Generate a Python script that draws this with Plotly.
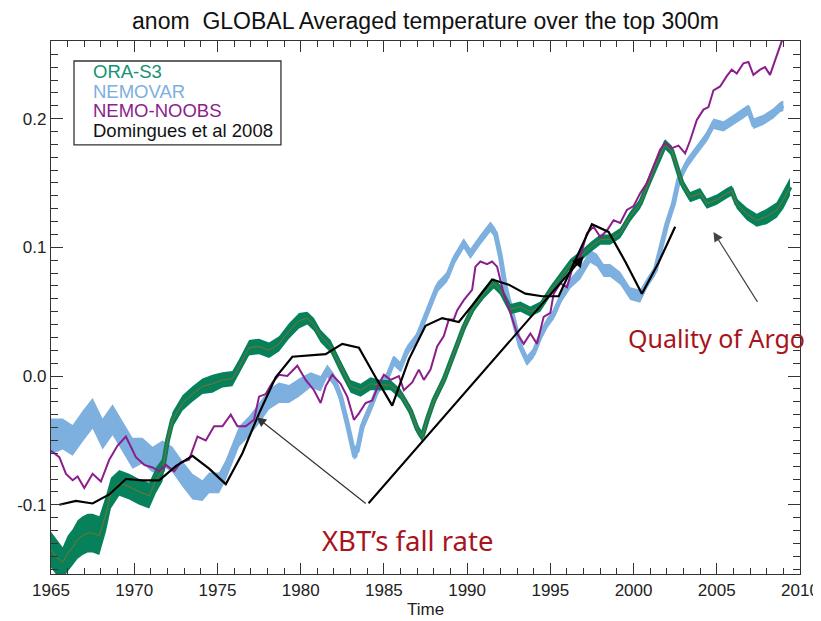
import plotly.graph_objects as go

# ---------------- data ----------------
ora_years = [1965.0, 1965.3, 1965.7, 1966.0, 1966.3, 1966.6, 1966.9, 1967.2, 1967.5, 1967.9,
             1968.3, 1968.6, 1969.1, 1969.7, 1970.3, 1970.9, 1971.3, 1971.7, 1972.0, 1972.3,
             1972.9, 1973.5, 1974.1, 1974.7, 1975.3, 1975.9, 1976.3, 1976.9, 1977.5, 1978.1,
             1978.7, 1979.3, 1979.9, 1980.4, 1980.8, 1981.2, 1981.8, 1982.4, 1983.0, 1983.6,
             1984.2, 1984.8, 1985.4, 1986.0, 1986.6, 1987.0, 1987.3, 1987.6, 1988.0, 1988.6,
             1989.2, 1989.8, 1990.4, 1991.0, 1991.6, 1992.0, 1992.6, 1993.2, 1993.8, 1994.4,
             1995.0, 1995.6, 1996.2, 1996.8, 1997.4, 1998.0, 1998.6, 1999.2, 1999.8, 2000.4,
             2000.8, 2001.3, 2001.9, 2002.3, 2002.6, 2002.9, 2003.4, 2004.0, 2004.4, 2005.0,
             2005.6, 2005.9, 2006.2, 2006.8, 2007.4, 2008.0, 2008.6, 2009.0, 2009.4]
ora_vals = [-0.135, -0.140, -0.145, -0.138, -0.133, -0.127, -0.124, -0.122, -0.122, -0.124,
            -0.107, -0.091, -0.083, -0.086, -0.090, -0.093, -0.081, -0.073, -0.050, -0.034,
            -0.021, -0.014, -0.008, -0.006, -0.003, -0.002, 0.007, 0.022, 0.023, 0.020,
            0.025, 0.035, 0.043, 0.045, 0.040, 0.031, 0.023, 0.007, -0.008, -0.011,
            -0.006, -0.007, -0.007, -0.014, -0.027, -0.041, -0.047, -0.034, -0.019, -0.003,
            0.018, 0.038, 0.054, 0.064, 0.072, 0.067, 0.052, 0.054, 0.050, 0.054,
            0.066, 0.077, 0.087, 0.093, 0.100, 0.106, 0.106, 0.111, 0.124, 0.134,
            0.147, 0.163, 0.180, 0.175, 0.163, 0.150, 0.139, 0.142, 0.134, 0.137,
            0.142, 0.144, 0.134, 0.126, 0.121, 0.124, 0.129, 0.137, 0.147]
ora_spread = [0.014, 0.014, 0.012, 0.014, 0.014, 0.015, 0.015, 0.015, 0.015, 0.015,
              0.014, 0.012, 0.010, 0.010, 0.010, 0.010, 0.010, 0.009, 0.006, 0.006,
              0.006, 0.006, 0.006, 0.007, 0.006, 0.006, 0.006, 0.006, 0.006, 0.006,
              0.006, 0.006, 0.006, 0.005, 0.005, 0.005, 0.005, 0.005, 0.005, 0.005,
              0.005, 0.004, 0.004, 0.004, 0.004, 0.004, 0.004, 0.004, 0.004, 0.004,
              0.004, 0.004, 0.004, 0.004, 0.004, 0.004, 0.004, 0.004, 0.004, 0.004,
              0.004, 0.004, 0.004, 0.004, 0.004, 0.004, 0.004, 0.004, 0.004, 0.004,
              0.004, 0.004, 0.004, 0.004, 0.004, 0.004, 0.004, 0.004, 0.004, 0.004,
              0.004, 0.004, 0.004, 0.005, 0.005, 0.006, 0.006, 0.007, 0.007]

nemovar_years = [1965.0, 1965.7, 1966.3, 1966.9, 1967.5, 1968.1, 1968.7, 1969.3, 1969.9, 1970.5,
                 1971.1, 1971.7, 1972.3, 1972.9, 1973.5, 1974.1, 1974.5, 1975.1, 1975.5, 1975.9,
                 1976.3, 1976.9, 1977.5, 1978.1, 1978.7, 1979.3, 1979.9, 1980.6, 1981.2, 1981.6,
                 1982.0, 1982.4, 1982.8, 1983.2, 1983.4, 1983.7, 1984.2, 1984.6, 1985.2, 1985.6,
                 1986.0, 1986.4, 1987.0, 1987.4, 1987.8, 1988.2, 1988.8, 1989.2, 1989.8, 1990.2,
                 1990.8, 1991.4, 1991.7, 1992.0, 1992.3, 1992.8, 1993.2, 1993.6, 1994.0, 1994.4,
                 1994.8, 1995.2, 1995.6, 1996.2, 1996.8, 1997.4, 1997.8, 1998.2, 1998.6, 1999.2,
                 1999.8, 2000.4, 2000.8, 2001.3, 2001.7, 2002.0, 2002.4, 2002.7, 2003.2, 2003.8,
                 2004.4, 2004.8, 2005.4, 2006.0, 2006.6, 2006.9, 2007.2, 2007.8, 2008.4, 2008.8,
                 2009.0]
nemovar_vals = [-0.047, -0.045, -0.050, -0.039, -0.029, -0.045, -0.034, -0.047, -0.060, -0.058,
                -0.065, -0.060, -0.065, -0.076, -0.086, -0.089, -0.083, -0.083, -0.073, -0.060,
                -0.047, -0.039, -0.029, -0.018, -0.013, -0.014, -0.009, -0.003, -0.006, 0.004,
                -0.003, -0.016, -0.037, -0.060, -0.058, -0.039, -0.024, -0.011, -0.001, 0.012,
                0.007, 0.020, 0.030, 0.043, 0.056, 0.069, 0.077, 0.090, 0.103, 0.095,
                0.106, 0.116, 0.111, 0.093, 0.069, 0.043, 0.023, 0.012, 0.018, 0.031,
                0.041, 0.048, 0.060, 0.072, 0.080, 0.093, 0.090, 0.082, 0.082, 0.076,
                0.064, 0.062, 0.072, 0.082, 0.103, 0.118, 0.134, 0.152, 0.165, 0.176,
                0.186, 0.196, 0.194, 0.199, 0.204, 0.207, 0.196, 0.199, 0.204, 0.209,
                0.210]
nemovar_spread = [0.014, 0.012, 0.012, 0.012, 0.012, 0.012, 0.012, 0.012, 0.012, 0.010,
                  0.010, 0.010, 0.010, 0.010, 0.010, 0.008, 0.008, 0.008, 0.008, 0.008,
                  0.008, 0.008, 0.008, 0.008, 0.008, 0.007, 0.007, 0.006, 0.006, 0.005,
                  0.005, 0.005, 0.005, 0.005, 0.005, 0.005, 0.005, 0.004, 0.004, 0.004,
                  0.004, 0.004, 0.004, 0.004, 0.004, 0.004, 0.004, 0.004, 0.004, 0.004,
                  0.004, 0.004, 0.004, 0.004, 0.004, 0.004, 0.004, 0.004, 0.004, 0.004,
                  0.004, 0.004, 0.004, 0.004, 0.005, 0.005, 0.005, 0.005, 0.005, 0.005,
                  0.005, 0.005, 0.004, 0.004, 0.004, 0.004, 0.004, 0.004, 0.004, 0.004,
                  0.004, 0.004, 0.004, 0.004, 0.004, 0.004, 0.004, 0.004, 0.004, 0.004,
                  0.004]

noobs_years = [1965.0, 1965.5, 1965.9, 1966.3, 1966.6, 1967.0, 1967.5, 1968.0, 1968.5, 1969.0,
               1969.5, 1970.1, 1970.6, 1971.1, 1971.5, 1971.9, 1972.4, 1972.8, 1973.3, 1973.8,
               1974.3, 1974.8, 1975.3, 1975.8, 1976.2, 1976.7, 1977.2, 1977.5, 1977.9, 1978.3,
               1978.7, 1979.2, 1979.8, 1980.3, 1980.8, 1981.2, 1981.5, 1981.9, 1982.4, 1982.8,
               1983.2, 1983.5, 1983.9, 1984.3, 1984.7, 1985.0, 1985.4, 1985.9, 1986.2, 1986.7,
               1987.1, 1987.4, 1987.8, 1988.2, 1988.6, 1988.9, 1989.2, 1989.4, 1989.8, 1990.3,
               1990.5, 1990.8, 1991.2, 1991.5, 1991.8, 1992.2, 1992.6, 1993.0, 1993.4, 1993.8,
               1994.2, 1994.6, 1995.0, 1995.2, 1995.6, 1996.0, 1996.4, 1996.8, 1997.2, 1997.6,
               1998.0, 1998.4, 1998.8, 1999.2, 1999.6, 2000.0, 2000.4, 2000.8, 2001.2, 2001.6,
               2001.9, 2002.3, 2002.7, 2003.1, 2003.4, 2003.8, 2004.2, 2004.5, 2004.8, 2005.2,
               2005.6, 2005.9, 2006.2, 2006.6, 2006.9, 2007.2, 2007.6, 2007.9, 2008.2, 2008.6,
               2008.9, 2009.2]
noobs_vals = [-0.058, -0.063, -0.076, -0.081, -0.078, -0.087, -0.076, -0.082, -0.065, -0.054,
              -0.047, -0.063, -0.069, -0.071, -0.074, -0.069, -0.074, -0.067, -0.065, -0.047,
              -0.050, -0.039, -0.039, -0.030, -0.039, -0.039, -0.034, -0.016, -0.014, -0.005,
              0.001, 0.000, 0.008, -0.003, -0.011, -0.021, -0.008, 0.001, -0.006, -0.016,
              -0.034, -0.029, -0.021, -0.019, -0.006, 0.001, -0.003, 0.000, -0.011, -0.005,
              0.005, -0.003, 0.005, 0.023, 0.031, 0.044, 0.044, 0.051, 0.059, 0.067,
              0.085, 0.089, 0.087, 0.089, 0.085, 0.064, 0.049, 0.033, 0.025, 0.033,
              0.025, 0.046, 0.049, 0.064, 0.072, 0.069, 0.087, 0.093, 0.111, 0.116,
              0.108, 0.113, 0.121, 0.119, 0.129, 0.132, 0.142, 0.150, 0.163, 0.176,
              0.181, 0.177, 0.179, 0.173, 0.183, 0.199, 0.207, 0.209, 0.222, 0.225,
              0.233, 0.238, 0.235, 0.243, 0.244, 0.234, 0.238, 0.240, 0.234, 0.248,
              0.260, 0.275]

dom_years = [1965.5, 1966.5, 1967.5, 1968.5, 1969.5, 1970.5, 1971.5, 1972.5, 1973.5, 1974.5,
             1975.5, 1976.5, 1977.5, 1978.5, 1979.5, 1980.5, 1981.5, 1982.5, 1983.5, 1984.5,
             1985.5, 1986.5, 1987.5, 1988.5, 1989.5, 1990.5, 1991.5, 1992.5, 1993.5, 1994.5,
             1995.5, 1996.5, 1997.5, 1998.5, 1999.5, 2000.5, 2001.5, 2002.5]
dom_vals = [-0.100, -0.097, -0.099, -0.092, -0.080, -0.081, -0.081, -0.070, -0.062, -0.072,
            -0.084, -0.060, -0.029, -0.001, 0.015, 0.016, 0.017, 0.025, 0.022, -0.001,
            -0.023, 0.013, 0.039, 0.045, 0.042, 0.058, 0.075, 0.071, 0.064, 0.062,
            0.062, 0.090, 0.118, 0.112, 0.089, 0.064, 0.088, 0.116]

series_names = ["ORA-S3", "NEMOVAR", "NEMO-NOOBS", "Domingues et al 2008"]
y_tickvals = [-0.1, 0.0, 0.1, 0.2]
y_ticktext = ["-0.1", "0.0", "0.1", "0.2"]
x_tickvals = [1965, 1970, 1975, 1980, 1985, 1990, 1995, 2000, 2005, 2010]
x_range = [1965, 2010]
y_range = [-0.1538, 0.2603]

# ---------------- styling ----------------
GREEN = "#07805c"
GREEN_TXT = "#139273"
OLIVE = "#7d7425"
BLUE = "#7dafdf"
PURPLE = "#8b1e8b"
AXIS = "#333333"
FONT = "Liberation Sans"
PAGE_OFFSET = 8  # default body margin of the html page

fig = go.Figure()


def add_band(x, c, s, color):
    up = [a + b for a, b in zip(c, s)]
    lo = [a - b for a, b in zip(c, s)]
    fig.add_trace(go.Scatter(x=list(x) + list(x[::-1]), y=up + lo[::-1],
                             fill="toself", fillcolor=color, mode="lines",
                             line=dict(width=0, color=color), hoverinfo="skip",
                             showlegend=False))
    fig.add_trace(go.Scatter(x=x, y=c, mode="lines",
                             line=dict(width=5, color=color), hoverinfo="skip",
                             showlegend=False))


add_band(nemovar_years, nemovar_vals, nemovar_spread, BLUE)
add_band(ora_years, ora_vals, ora_spread, GREEN)
fig.add_trace(go.Scatter(x=ora_years, y=ora_vals, mode="lines",
                         line=dict(width=1, color=OLIVE), showlegend=False))
fig.add_trace(go.Scatter(x=noobs_years, y=noobs_vals, mode="lines",
                         line=dict(width=2, color=PURPLE), name=series_names[2],
                         showlegend=False))
fig.add_trace(go.Scatter(x=dom_years, y=dom_vals, mode="lines",
                         line=dict(width=2.2, color="black"), name=series_names[3],
                         showlegend=False))
# invisible trace on the mirror axes (top / right) so that they are drawn
fig.add_trace(go.Scatter(x=x_range, y=y_range, xaxis="x2", yaxis="y2", mode="markers",
                         marker=dict(opacity=0), hoverinfo="skip", showlegend=False))

# legend box (drawn manually, IDL style)
fig.add_shape(type="rect", xref="paper", yref="paper", x0=0.0307, x1=0.307,
              y0=0.805, y1=0.9625, line=dict(color=AXIS, width=1.3),
              fillcolor="rgba(0,0,0,0)")
legend_colors = [GREEN_TXT, BLUE, PURPLE, "#111111"]
legend_y = [0.942, 0.905, 0.869, 0.833]
for name, col, yy in zip(series_names, legend_colors, legend_y):
    fig.add_annotation(text=name, xref="paper", yref="paper", x=0.054, y=yy,
                       xanchor="left", yanchor="middle", showarrow=False,
                       font=dict(family=FONT, size=18.5, color=col))

# XBT arrows
fig.add_annotation(x=1977.35, y=-0.032, ax=1984.0, ay=-0.100, xref="x", yref="y",
                   axref="x", ayref="y", text="", showarrow=True, arrowhead=2,
                   arrowsize=1.6, arrowwidth=1.2, arrowcolor="#333333", standoff=0)
fig.add_annotation(x=1997.0, y=0.093, ax=1984.0, ay=-0.100, xref="x", yref="y",
                   axref="x", ayref="y", text="", showarrow=True, arrowhead=2,
                   arrowsize=1.1, arrowwidth=2, arrowcolor="black", standoff=0)
# Argo arrow
fig.add_annotation(x=2004.8, y=0.112, ax=2007.5, ay=0.0565, xref="x", yref="y",
                   axref="x", ayref="y", text="", showarrow=True, arrowhead=2,
                   arrowsize=1.6, arrowwidth=1.2, arrowcolor="#444444", standoff=0)

fig.add_annotation(text="XBT\u2019s fall rate", x=1986.45, y=-0.128, xref="x", yref="y",
                   showarrow=False, xanchor="center", yanchor="middle",
                   font=dict(family="Noto Sans", size=27.5, color="#a8141c"))
fig.add_annotation(text="Quality of Argo", x=2005.0, y=0.0295, xref="x", yref="y",
                   showarrow=False, xanchor="center", yanchor="middle",
                   font=dict(family="Noto Sans", size=25, color="#a8141c"))
# x-axis title
fig.add_annotation(text="Time", xref="paper", yref="paper", x=0.5, y=-35 / 533,
                   xanchor="center", yanchor="middle", showarrow=False,
                   font=dict(family=FONT, size=17, color="#222222"))

W, H = 821 - PAGE_OFFSET, 621 - PAGE_OFFSET
fig.update_layout(
    width=W, height=H,
    margin=dict(l=51 - PAGE_OFFSET, r=W - (800 - PAGE_OFFSET), t=41 - PAGE_OFFSET,
                b=H - (574 - PAGE_OFFSET), autoexpand=False),
    paper_bgcolor="white", plot_bgcolor="white",
    title=dict(text="anom  GLOBAL Averaged temperature over the top 300m",
               x=0.5, xref="paper", xanchor="center", y=1 - (21 - PAGE_OFFSET) / H,
               yref="container", yanchor="middle",
               font=dict(family=FONT, size=23, color="#111111")),
    font=dict(family=FONT, color="#222222"),
    showlegend=False,
    xaxis2=dict(overlaying="x", side="top", anchor="y2", range=x_range,
                tickmode="array", tickvals=x_tickvals, showticklabels=False,
                ticks="inside", ticklen=11, tickwidth=1.2, tickcolor=AXIS,
                showline=True, linecolor=AXIS, linewidth=1.3, showgrid=False,
                zeroline=False, automargin=False,
                minor=dict(ticks="inside", dtick=1, tick0=1965, ticklen=6,
                           tickwidth=1.2, tickcolor=AXIS, showgrid=False)),
    yaxis2=dict(overlaying="y", side="right", anchor="x2", range=y_range,
                tickmode="array", tickvals=y_tickvals, showticklabels=False,
                ticks="inside", ticklen=12, tickwidth=1.2, tickcolor=AXIS,
                showline=True, linecolor=AXIS, linewidth=1.3, showgrid=False,
                zeroline=False, automargin=False,
                minor=dict(ticks="inside", dtick=0.01, tick0=0, ticklen=7,
                           tickwidth=1.2, tickcolor=AXIS, showgrid=False)),
)
fig.layout.xaxis.update(range=x_range, tickmode="array", tickvals=x_tickvals,
                        ticks="inside", ticklen=11, tickwidth=1.2, tickcolor=AXIS,
                        showline=True, linecolor=AXIS, linewidth=1.3,
                        showgrid=False, zeroline=False, automargin=False,
                        minor=dict(ticks="inside", dtick=1, tick0=1965, ticklen=6,
                                   tickwidth=1.2, tickcolor=AXIS, showgrid=False),
                        tickfont=dict(family=FONT, size=17, color="#222222"))
fig.layout.yaxis.update(range=y_range, tickmode="array", tickvals=y_tickvals,
                        ticktext=y_ticktext,
                        ticks="inside", ticklen=12, tickwidth=1.2, tickcolor=AXIS,
                        showline=True, linecolor=AXIS, linewidth=1.3,
                        showgrid=False, zeroline=False, automargin=False,
                        minor=dict(ticks="inside", dtick=0.01, tick0=0, ticklen=7,
                                   tickwidth=1.2, tickcolor=AXIS, showgrid=False),
                        tickfont=dict(family=FONT, size=17, color="#222222"))

fig.write_html("out.html")
